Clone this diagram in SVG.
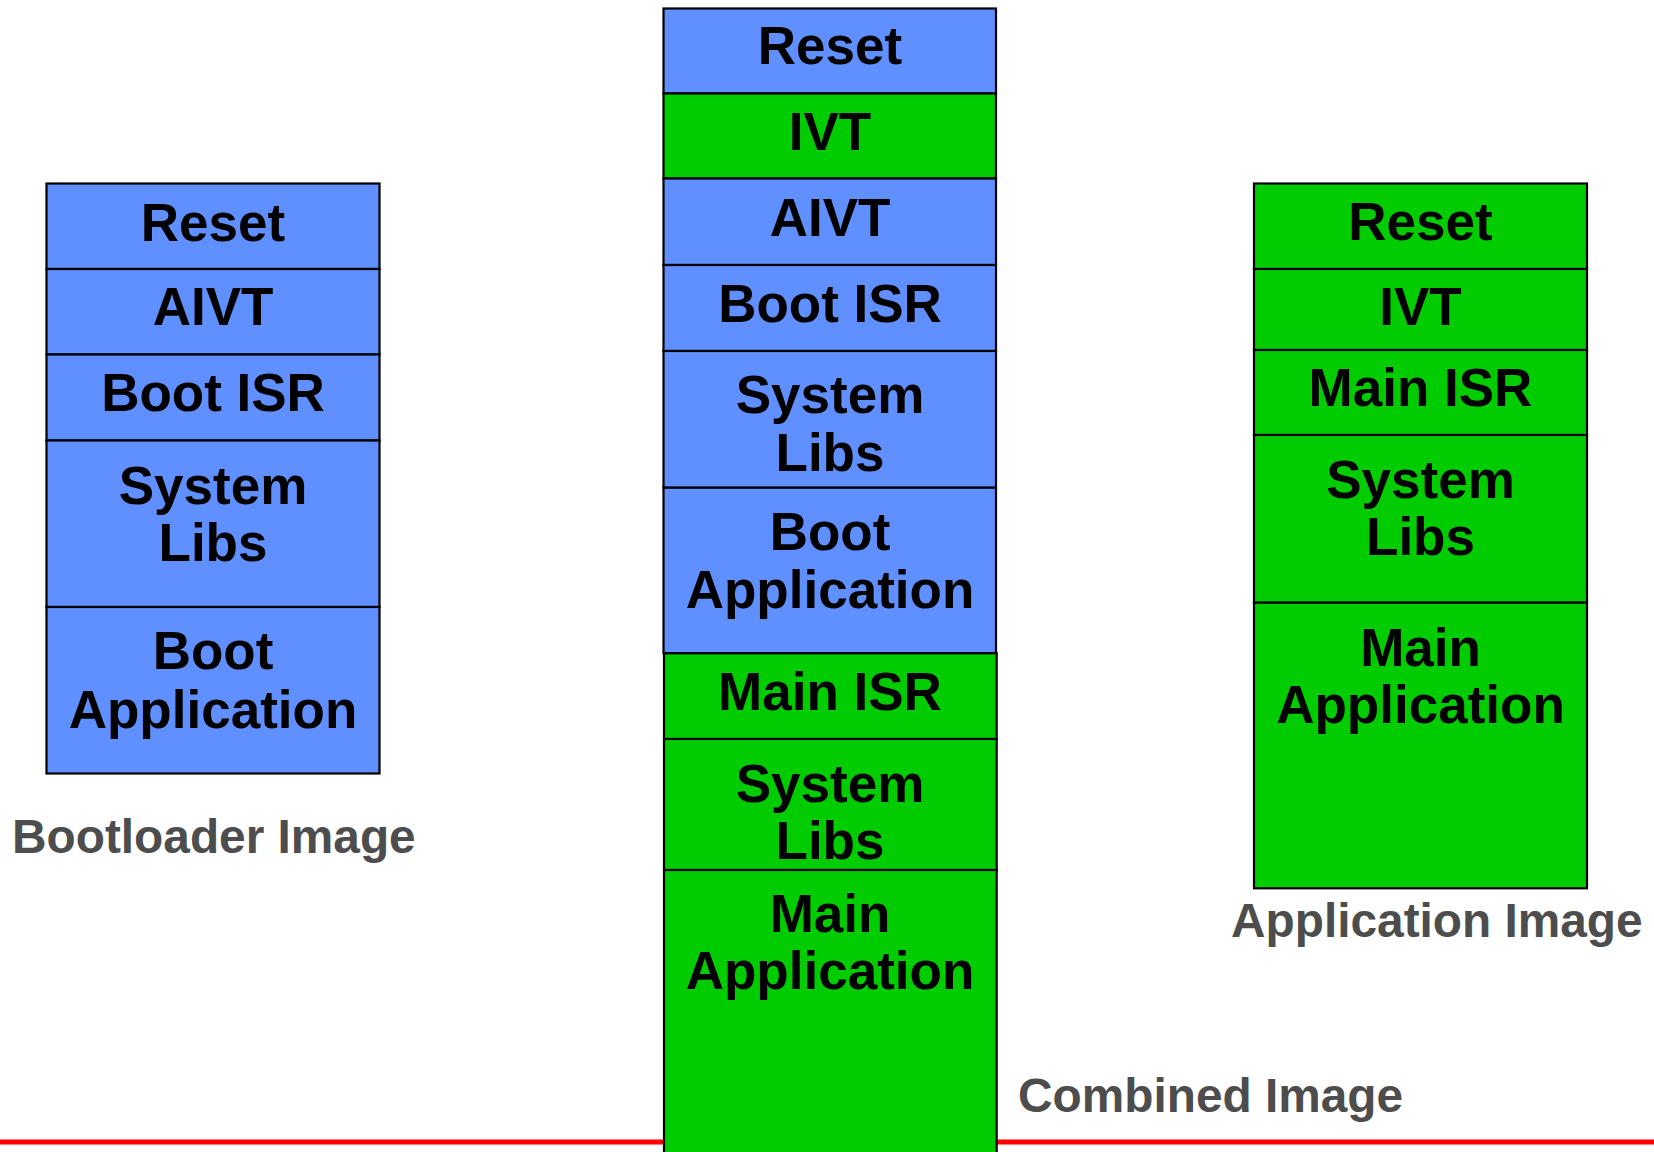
<svg xmlns="http://www.w3.org/2000/svg" width="1654" height="1152" viewBox="0 0 1654 1152">
<style>
.b{fill:#6090ff;stroke:#000;stroke-width:2.2}
.g{fill:#00cc00;stroke:#000;stroke-width:2.2}
.t{font-family:"Liberation Sans",Arial,sans-serif;font-weight:bold;font-size:53px;fill:#000;text-anchor:middle}
.lbl{font-family:"Liberation Sans",Arial,sans-serif;font-weight:bold;font-size:47.8px;fill:#4d4d4d}
</style>
<rect width="1654" height="1152" fill="#fff"/>
<g id="connectors">
<line x1="0" y1="1142" x2="1654" y2="1142" stroke="#ff0000" stroke-width="5"/>
</g>
<g id="bootloader">
<rect class="b" x="46.5" y="183.5" width="333" height="85.5"/>
<rect class="b" x="46.5" y="269" width="333" height="85.5"/>
<rect class="b" x="46.5" y="354.5" width="333" height="86"/>
<rect class="b" x="46.5" y="440.5" width="333" height="166.5"/>
<rect class="b" x="46.5" y="607" width="333" height="166.5"/>
<text class="t" x="213" y="240.7">Reset</text>
<text class="t" x="213" y="325.3">AIVT</text>
<text class="t" x="213" y="410.7">Boot ISR</text>
<text class="t" x="213" y="504">System</text>
<text class="t" x="213" y="561">Libs</text>
<text class="t" x="213" y="669.3">Boot</text>
<text class="t" x="213" y="727.7">Application</text>
<text class="lbl" x="12" y="853">Bootloader Image</text>
</g>
<g id="combined">
<rect class="b" x="663.5" y="8.5" width="332.5" height="85"/>
<rect class="g" x="663.5" y="93.5" width="332.5" height="85"/>
<rect class="b" x="663.5" y="178.5" width="332.5" height="86.5"/>
<rect class="b" x="663.5" y="265" width="332.5" height="86"/>
<rect class="b" x="663.5" y="351" width="332.5" height="136.7"/>
<rect class="b" x="663.5" y="487.7" width="332.5" height="165.6"/>
<rect class="g" x="664" y="653.3" width="332.7" height="85.7"/>
<rect class="g" x="664" y="739" width="332.7" height="131"/>
<rect class="g" x="664" y="870" width="332.7" height="300"/>
<text class="t" x="830" y="64.3">Reset</text>
<text class="t" x="830" y="150">IVT</text>
<text class="t" x="830" y="236">AIVT</text>
<text class="t" x="830" y="321.7">Boot ISR</text>
<text class="t" x="830" y="412.7">System</text>
<text class="t" x="830" y="471">Libs</text>
<text class="t" x="830" y="550">Boot</text>
<text class="t" x="830" y="607.7">Application</text>
<text class="t" x="830" y="710">Main ISR</text>
<text class="t" x="830" y="801.7">System</text>
<text class="t" x="830" y="859">Libs</text>
<text class="t" x="830" y="931.7">Main</text>
<text class="t" x="830" y="989.3">Application</text>
<text class="lbl" x="1018" y="1111.7">Combined Image</text>
</g>
<g id="application">
<rect class="g" x="1254" y="183.5" width="333" height="85.5"/>
<rect class="g" x="1254" y="269" width="333" height="81"/>
<rect class="g" x="1254" y="350" width="333" height="85"/>
<rect class="g" x="1254" y="435" width="333" height="167.7"/>
<rect class="g" x="1254" y="602.7" width="333" height="285.6"/>
<text class="t" x="1420.5" y="240">Reset</text>
<text class="t" x="1420.5" y="325">IVT</text>
<text class="t" x="1420.5" y="406">Main ISR</text>
<text class="t" x="1420.5" y="498.3">System</text>
<text class="t" x="1420.5" y="555">Libs</text>
<text class="t" x="1420.5" y="666">Main</text>
<text class="t" x="1420.5" y="723.3">Application</text>
<text class="lbl" x="1231" y="937.3">Application Image</text>
</g>
</svg>
